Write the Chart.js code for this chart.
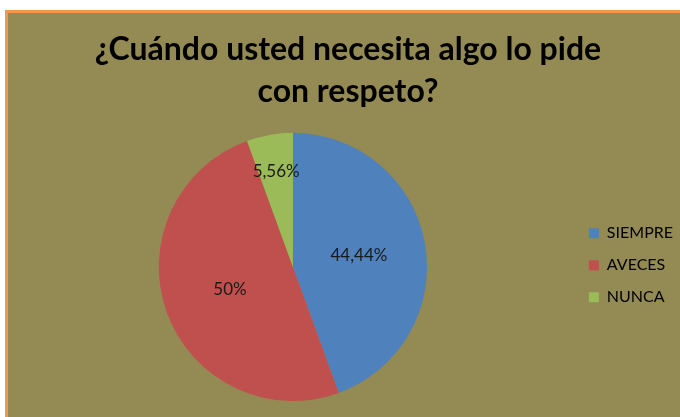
<!DOCTYPE html>
<html>
<head>
<meta charset="utf-8">
<script src="https://cdn.jsdelivr.net/npm/chart.js@4.4.0/dist/chart.umd.min.js"></script>
<style>
  html, body { margin: 0; padding: 0; background: #ffffff; overflow: hidden; }
  #box {
    position: absolute; left: 5px; top: 10px;
    width: 700px; height: 410px;
    background: #948a54;
    border-top: 3px solid #f79646;
    border-left: 3px solid #f79646;
  }
</style>
</head>
<body>
<div id="box"><canvas id="pieChart" width="700" height="410"></canvas></div>
<script>
const categories = ["SIEMPRE", "AVECES", "NUNCA"];
const percentages = [44.44, 50, 5.56];
const sliceColors = ["#4f81bd", "#c0504d", "#9bbb59"];
const titleLines = ["¿Cuándo usted necesita algo lo pide", "con respeto?"];

// radial position of each value label (fraction of radius)
const labelRadius = [0.5, 0.5, 0.72];

function formatPct(v) {
  let s = v.toFixed(2).replace(".", ",");
  if (s.endsWith(",00")) s = s.slice(0, -3);
  return s + "%";
}

const pctLabels = {
  id: "pctLabels",
  afterDatasetsDraw(chart) {
    const ctx = chart.ctx;
    const meta = chart.getDatasetMeta(0);
    ctx.save();
    ctx.font = "17px Lato";
    ctx.fillStyle = "#1a1a1a";
    ctx.textAlign = "center";
    ctx.textBaseline = "middle";
    meta.data.forEach((arc, i) => {
      const p = arc.getProps(["x", "y", "startAngle", "endAngle", "outerRadius"], true);
      const mid = (p.startAngle + p.endAngle) / 2;
      const r = p.outerRadius * labelRadius[i];
      ctx.fillText(formatPct(percentages[i]), p.x + Math.cos(mid) * r, p.y + Math.sin(mid) * r);
    });
    ctx.restore();
  },
};

const ctx = document.getElementById("pieChart").getContext("2d");
const pieChart = new Chart(ctx, {
  type: "pie",
  data: {
    labels: categories,
    datasets: [
      {
        data: percentages,
        backgroundColor: sliceColors,
        borderWidth: 0,
      },
    ],
  },
  options: {
    responsive: false,
    animation: false,
    layout: {
      padding: { left: 5, right: 25, top: 0, bottom: 22 },
    },
    plugins: {
      title: {
        display: true,
        text: titleLines,
        color: "#000000",
        font: { family: "Lato", size: 32, weight: "bold", lineHeight: 1.31 },
        padding: { top: 16, bottom: 20 },
      },
      legend: {
        position: "right",
        title: {
          display: true,
          text: " ",
          font: { size: 12, lineHeight: 1.2 },
          padding: { top: 51, bottom: 51 },
        },
        labels: {
          color: "#000000",
          font: { family: "Lato", size: 16 },
          boxWidth: 10,
          boxHeight: 10,
          padding: 16,
        },
      },
      tooltip: { enabled: false },
    },
  },
  plugins: [pctLabels],
});
</script>
</body>
</html>
